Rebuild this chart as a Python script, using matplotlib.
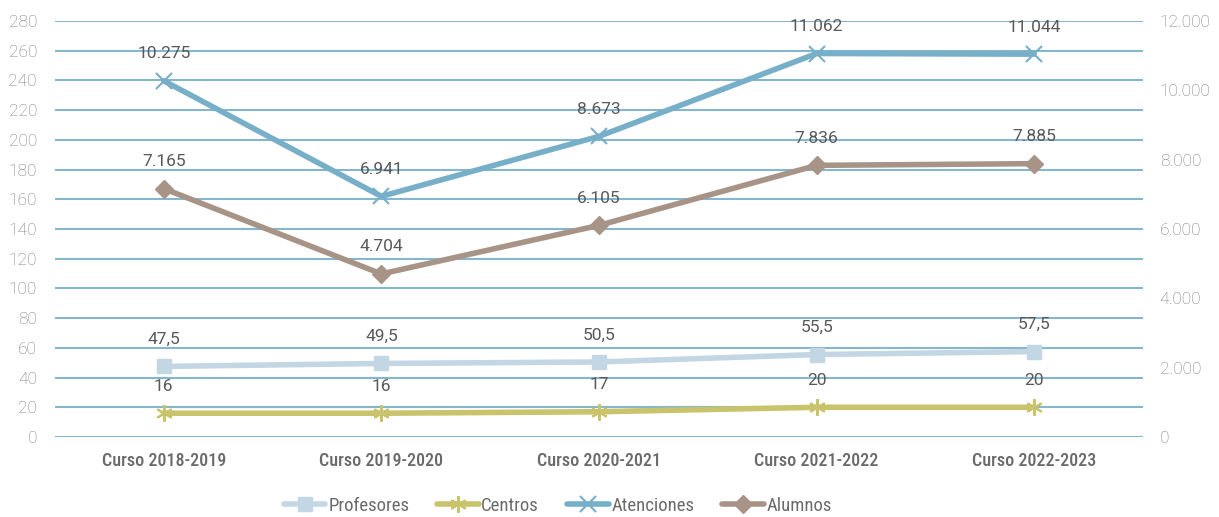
import matplotlib
matplotlib.use("Agg")
import matplotlib.pyplot as plt
from matplotlib import font_manager as fm
from matplotlib.ticker import FuncFormatter, MultipleLocator

names = {f.name for f in fm.fontManager.ttflist}
cond = "Roboto"
for cand in ["Roboto Condensed", "Liberation Sans Narrow", "Open Sans Condensed", "Noto Sans Condensed"]:
    if cand in names:
        cond = cand
        break
reg = "Roboto" if "Roboto" in names else "DejaVu Sans"

categories = ["Curso 2018-2019", "Curso 2019-2020", "Curso 2020-2021", "Curso 2021-2022", "Curso 2022-2023"]
profesores = [47.5, 49.5, 50.5, 55.5, 57.5]
centros = [16, 16, 17, 20, 20]
atenciones = [10275, 6941, 8673, 11062, 11044]
alumnos = [7165, 4704, 6105, 7836, 7885]

c_prof = "#c3d6e3"
c_cent = "#c9c36c"
c_aten = "#77aec8"
c_alum = "#a89487"
grid_c = "#84b6cd"
tick_c = "#7a7a7a"
lab_c = "#595959"

def es_fmt(v, dec=False):
    if dec:
        return ("%.1f" % v).replace(".", ",")
    return "{:,.0f}".format(v).replace(",", ".")

fig = plt.figure(figsize=(12.19, 5.17), dpi=100)
ax = fig.add_axes([55/1219, 1-437/517, (1143-55)/1219, (437-21)/517])
ax2 = ax.twinx()

x = list(range(len(categories)))
ax.set_xlim(-0.5, len(categories)-0.5)
ax.set_ylim(0, 280)
ax2.set_ylim(0, 12000)
ax.yaxis.set_major_locator(MultipleLocator(20))
ax2.yaxis.set_major_locator(MultipleLocator(2000))
ax2.yaxis.set_major_formatter(FuncFormatter(lambda v, p: es_fmt(v)))

for s in list(ax.spines.values()) + list(ax2.spines.values()):
    s.set_visible(False)
ax.grid(axis="y", color=grid_c, linewidth=1.5)
ax.set_axisbelow(True)
ax.tick_params(axis="both", length=0, colors=tick_c, labelsize=12.5)
ax2.tick_params(axis="both", length=0, colors=tick_c, labelsize=12.5)
for t in ax.get_yticklabels() + ax2.get_yticklabels():
    t.set_fontfamily(reg)
    t.set_fontweight("light")
ax.tick_params(axis="y", pad=13)
ax2.tick_params(axis="y", pad=12)
ax.set_xticks(x)
ax.set_xticklabels(categories, fontfamily=cond, fontsize=13, color="#6a6a6a", fontweight="medium")
ax.tick_params(axis="x", pad=11)

lw = 4
h1, = ax.plot(x, profesores, color=c_prof, lw=lw, marker="s", ms=10, mec=c_prof, mfc=c_prof, label="Profesores", solid_capstyle="round")
h2, = ax.plot(x, centros, color=c_cent, lw=lw, marker=(6, 2, 0), ms=12, mec=c_cent, mew=1.5, label="Centros", solid_capstyle="round")
h3, = ax2.plot(x, atenciones, color=c_aten, lw=lw, marker="x", ms=11, mec=c_aten, mew=1.5, label="Atenciones", solid_capstyle="round")
h4, = ax2.plot(x, alumnos, color=c_alum, lw=lw, marker="D", ms=9, mec=c_alum, mfc=c_alum, label="Alumnos", solid_capstyle="round")

off = 14
fs = 12.5
for xi, v in zip(x, profesores):
    ax.annotate(es_fmt(v, True), (xi, v), xytext=(0, off), textcoords="offset points", ha="center", va="bottom", fontsize=fs, color=lab_c, fontfamily=reg)
for xi, v in zip(x, centros):
    ax.annotate(str(v), (xi, v), xytext=(0, off), textcoords="offset points", ha="center", va="bottom", fontsize=fs, color=lab_c, fontfamily=reg)
for xi, v in zip(x, atenciones):
    ax2.annotate(es_fmt(v), (xi, v), xytext=(0, off), textcoords="offset points", ha="center", va="bottom", fontsize=fs, color=lab_c, fontfamily=reg)
for xi, v in zip(x, alumnos):
    ax2.annotate(es_fmt(v), (xi, v), xytext=(0, off), textcoords="offset points", ha="center", va="bottom", fontsize=fs, color=lab_c, fontfamily=reg)

leg = fig.legend(handles=[h1, h2, h3, h4], loc="center", bbox_to_anchor=(558/1219, 1-506/517), ncol=4, frameon=False,
                 prop={"family": cond, "size": 13.5}, handlelength=2.2, columnspacing=1.5, handletextpad=0.15)
for t in leg.get_texts():
    t.set_color("#6b6b6b")

fig.savefig("out.png", dpi=100)
